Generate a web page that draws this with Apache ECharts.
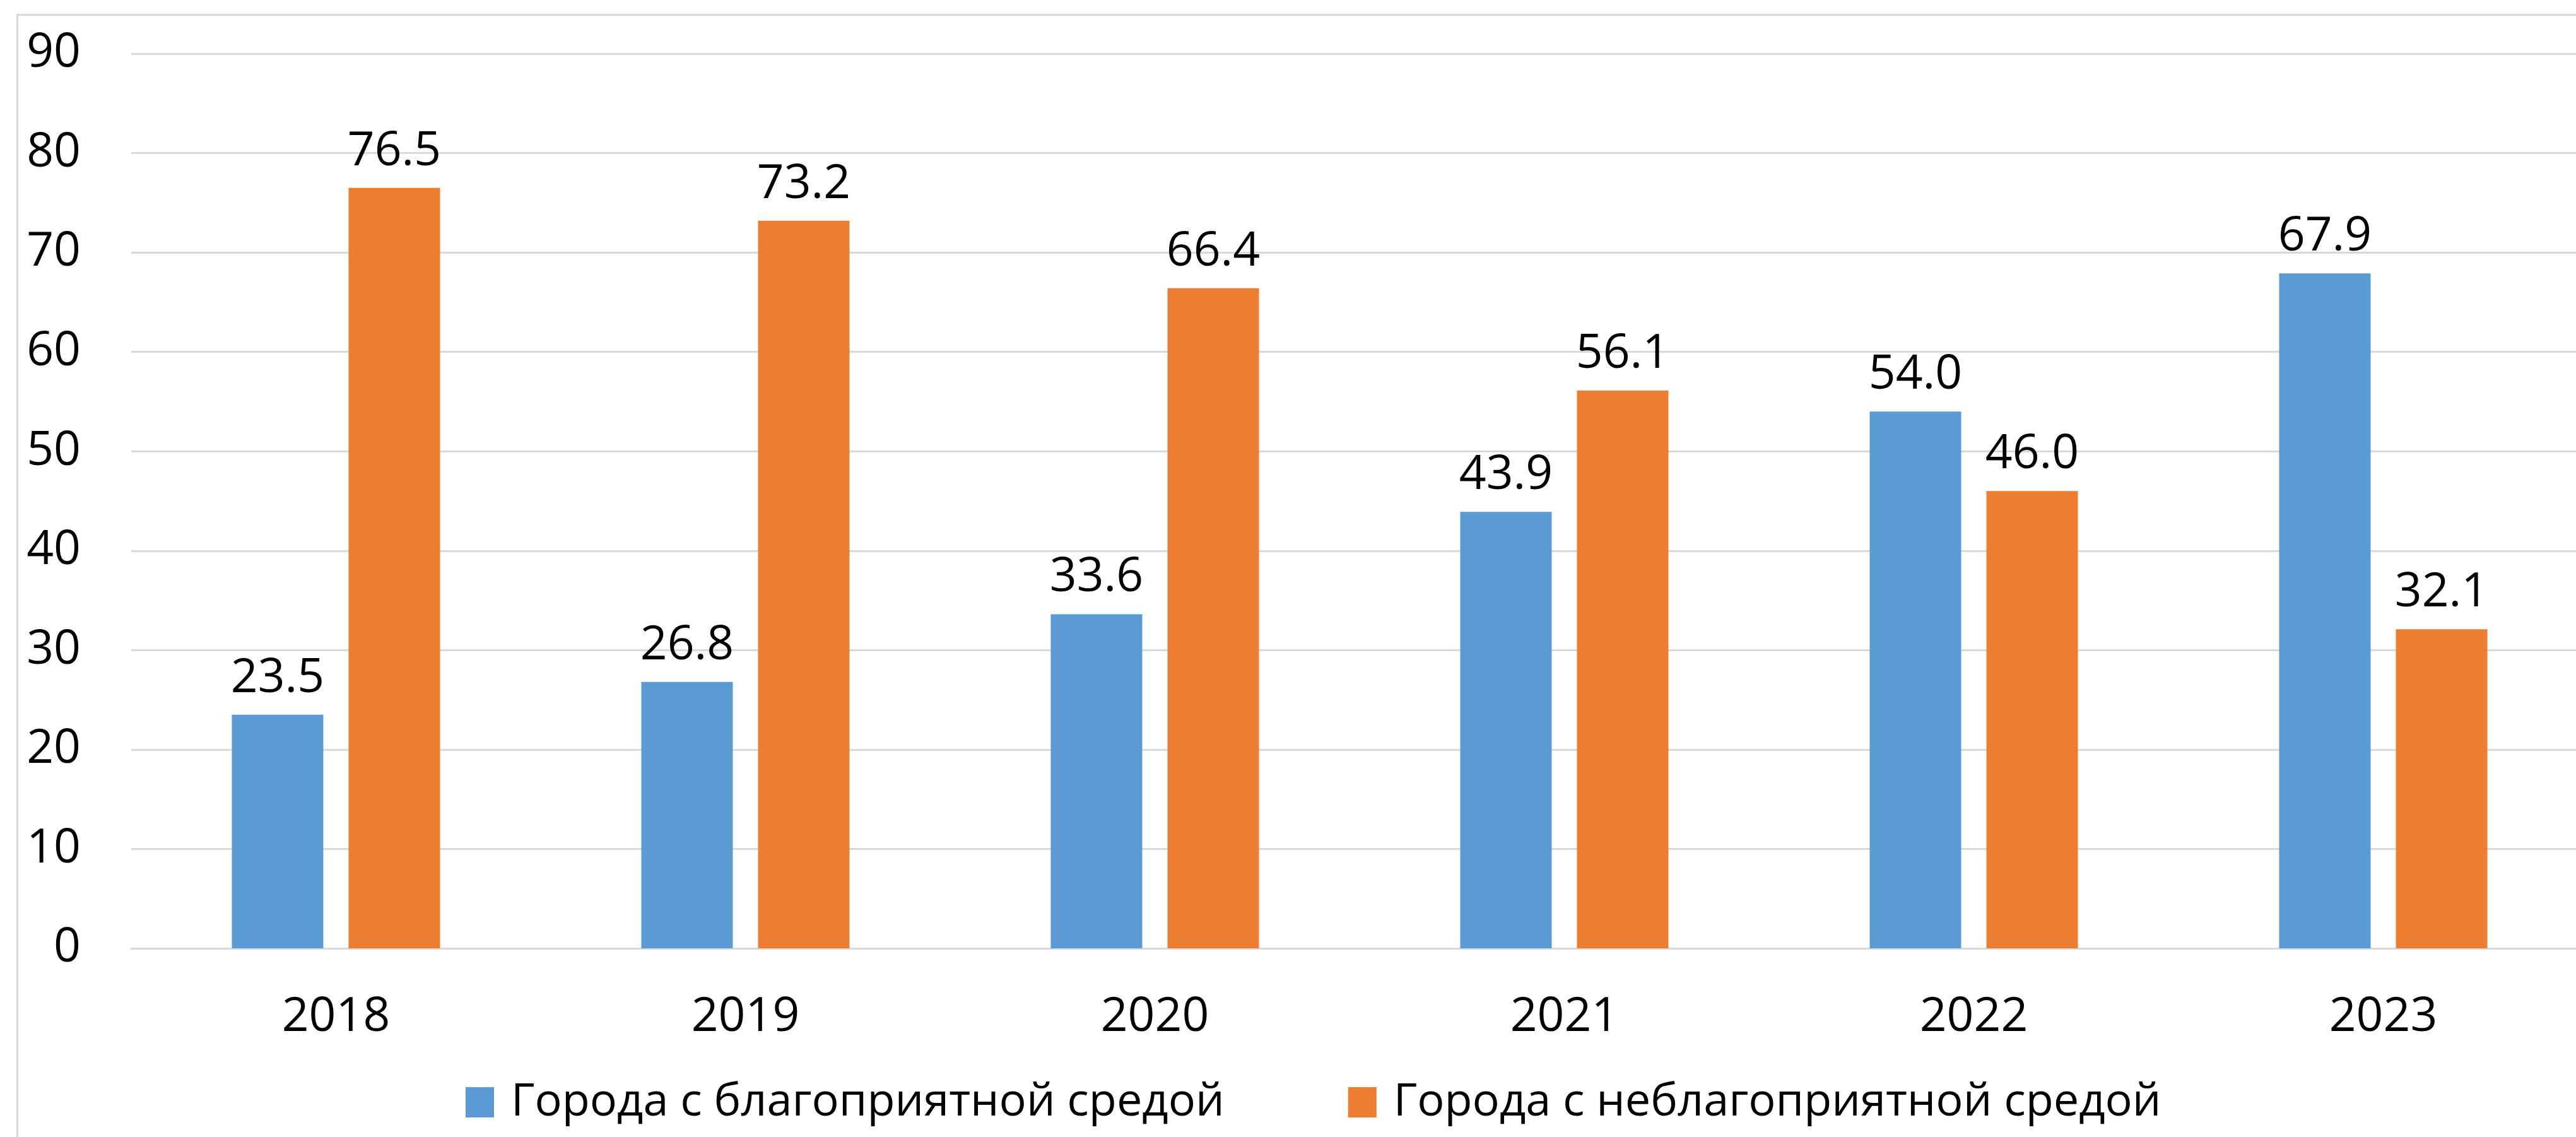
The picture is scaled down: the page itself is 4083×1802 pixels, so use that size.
<!DOCTYPE html>
<html>
<head>
<meta charset="utf-8">
<script src="https://cdn.jsdelivr.net/npm/echarts@6/dist/echarts.min.js"></script>
<style>
  html, body { margin: 0; padding: 0; background: #fff; }
  #main { width: 4083px; height: 1802px; }
</style>
</head>
<body>
<div id="main"></div>
<script>
var years = ['2018', '2019', '2020', '2021', '2022', '2023'];
var goodCities = [23.5, 26.8, 33.6, 43.9, 54.0, 67.9];
var badCities = [76.5, 73.2, 66.4, 56.1, 46.0, 32.1];
var seriesNames = ['Города с благоприятной средой', 'Города с неблагоприятной средой'];

var font = 'Open Sans';
var chart = echarts.init(document.getElementById('main'));

function labelFmt(p) {
  return p.value.toFixed(1);
}

var option = {
  backgroundColor: '#ffffff',
  color: ['#5b9bd5', '#ed7d31'],
  textStyle: { fontFamily: font },
  animation: false,
  // рамка области диаграммы (уходит за край картинки)
  graphic: [{
    type: 'rect',
    left: 25, top: 21,
    shape: { width: 4200, height: 1900 },
    style: { fill: 'none', stroke: '#d9d9d9', lineWidth: 3 },
    silent: true
  }],
  // область построения чуть шире холста, как на исходнике
  grid: { left: 208, width: 3894, top: 85, bottom: 299, containLabel: false, outerBoundsMode: 'none' },
  legend: {
    left: 733,
    top: 1706,
    itemWidth: 45,
    itemHeight: 48,
    itemGap: 196,
    icon: 'rect',
    textStyle: { fontSize: 72, color: '#000', fontFamily: font, padding: [0, 0, 0, 22] },
    data: seriesNames
  },
  xAxis: {
    type: 'category',
    data: years,
    axisLine: { lineStyle: { color: '#d9d9d9', width: 3 } },
    axisTick: { show: false },
    axisLabel: { fontSize: 75, color: '#000', margin: 72, fontFamily: font }
  },
  yAxis: {
    type: 'value',
    min: 0, max: 90, interval: 10,
    axisLine: { show: false },
    axisTick: { show: false },
    splitLine: { lineStyle: { color: '#d9d9d9', width: 3 } },
    axisLabel: { fontSize: 75, color: '#000', margin: 80, fontFamily: font }
  },
  series: [{
    name: seriesNames[0],
    type: 'bar',
    data: goodCities,
    barWidth: 145,
    barGap: '27.6%',
    label: {
      show: true, position: 'top', distance: 20,
      fontSize: 75, color: '#000', fontFamily: font,
      formatter: labelFmt
    }
  }, {
    name: seriesNames[1],
    type: 'bar',
    data: badCities,
    barWidth: 145,
    barGap: '27.6%',
    label: {
      show: true, position: 'top', distance: 20,
      fontSize: 75, color: '#000', fontFamily: font,
      formatter: labelFmt
    }
  }]
};

chart.setOption(option);
</script>
</body>
</html>
